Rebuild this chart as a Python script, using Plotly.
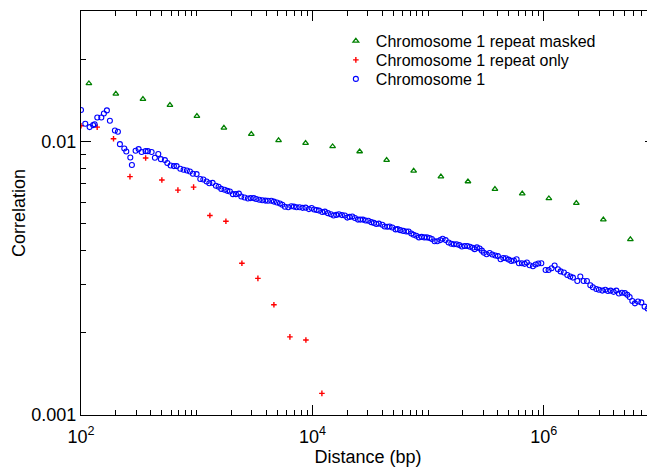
import plotly.graph_objects as go

# ---- data ----
masked_x = [117, 200, 343, 587, 1004, 1718, 2964, 5100, 8730, 14950, 25600, 43800,
            75000, 129000, 221000, 378000, 651000, 1106000, 1910000, 3270000, 5600000]
masked_y = [0.0163, 0.01494, 0.01429, 0.01359, 0.01239, 0.01122, 0.01064, 0.01009,
            0.00986, 0.00959, 0.00919, 0.00855, 0.00781, 0.00744, 0.00714, 0.0067,
            0.00645, 0.00619, 0.00595, 0.00518, 0.00439]

repeat_x = [100, 138, 191, 265, 362, 500, 688, 940, 1300, 1788, 2459, 3381, 4648,
            6391, 8786, 12080]
repeat_y = [0.01141, 0.01129, 0.01023, 0.00744, 0.0087, 0.00723, 0.00664, 0.00681,
            0.00536, 0.00511, 0.00359, 0.00316, 0.00253, 0.00193, 0.00188, 0.0012]

chr_x = [100, 108.9, 118.7, 127.3, 131.1, 138.3, 149.8, 157.7, 167.4, 177.7, 196.3,
         208.4, 216.9, 236.7, 246.3, 266.8, 275.4, 296.4, 314.7, 334.1, 361.7, 378.6,
         407.6, 435.2, 465.7, 490.4, 531.1, 557.1, 594.9, 635.4, 670.5, 721.6, 770.6,
         823, 873.5, 927.2, 998,
         1074, 1141, 1218, 1285, 1372, 1465, 1546, 1631, 1742, 1839, 1936, 2056, 2182,
         2316, 2429, 2594, 2770, 2923, 3103, 3275, 3476, 3690, 3917, 4125, 4413, 4648,
         4933, 5237, 5494, 5786, 6188, 6573, 6922, 7302, 7752, 8230, 8735, 9328,
         9842, 10340, 10870, 11430, 12180, 12830, 13610, 14450, 15250, 16090, 16940,
         17990, 19090, 20030, 20970, 22120, 23300, 24730, 25940, 27320, 28830, 30420,
         32290, 34010, 35670, 37560, 40190, 42080, 44400, 46480, 49040, 52370, 54500,
         57510, 61070, 64820, 67850, 71590, 74940, 79080, 83270, 87880, 92720, 97640,
         103000, 107800, 113800, 120100, 127500, 133500, 141700, 150400, 158700,
         167100, 176300, 186100, 195900, 206800, 218200, 229800, 242500, 252300,
         264100, 278700, 291700, 303600, 320400, 340100, 358800, 380900, 401100,
         423300, 446600, 470300, 496300, 523700, 551500, 582000, 609500, 646900,
         682600, 714400, 753900, 805100, 849500, 896300, 951500,
         1036500, 1100000, 1168000, 1240000, 1324000, 1397000, 1492000, 1596000,
         1694000, 1785000, 1948000, 2068000, 2208000, 2358000, 2523000, 2657000,
         2843000, 2994000, 3204000, 3401000, 3581000, 3779000, 4011000, 4233000,
         4457000, 4732000, 5023000, 5268000, 5515000, 5820000, 6131000, 6508000,
         6963000, 7434000, 7892000, 8327000, 8946000]
chr_y = [0.01303, 0.01161, 0.01129, 0.01148, 0.01156, 0.01224, 0.01224, 0.01266,
         0.01299, 0.01191, 0.01097, 0.01085, 0.00978, 0.00943, 0.00919, 0.00874,
         0.0082, 0.00925, 0.00938, 0.00915, 0.00922, 0.00922, 0.00915, 0.00872, 0.009,
         0.00862, 0.00855, 0.00834, 0.00817, 0.00813, 0.00813, 0.00795, 0.00788,
         0.00783, 0.00777, 0.00762, 0.0076,
         0.00729, 0.00726, 0.00714, 0.00704, 0.00706, 0.00689, 0.00683, 0.00671,
         0.00666, 0.0066, 0.00656, 0.00642, 0.00642, 0.00645, 0.00629, 0.00624,
         0.00619, 0.00621, 0.00621, 0.00616, 0.00612, 0.0061, 0.00608, 0.00607,
         0.00607, 0.00603, 0.00598, 0.00593, 0.00587, 0.00577, 0.00575, 0.0058,
         0.00578, 0.00575, 0.00575, 0.00572, 0.00573, 0.00566,
         0.00571, 0.00564, 0.00562, 0.00559, 0.00552, 0.00554, 0.00547, 0.00542,
         0.00536, 0.00539, 0.00542, 0.00538, 0.00536, 0.00527, 0.0053, 0.00532,
         0.00525, 0.00518, 0.00518, 0.00518, 0.00514, 0.00513, 0.00507, 0.00504,
         0.00499, 0.00501, 0.00496, 0.00489, 0.00488, 0.00489, 0.00485, 0.00477,
         0.00478, 0.00474, 0.00471, 0.00469, 0.00469, 0.00461, 0.00456, 0.00452,
         0.00446, 0.00448, 0.00446, 0.00446,
         0.00444, 0.0044, 0.00432, 0.00432, 0.00436, 0.00441, 0.00436, 0.00427,
         0.00423, 0.00421, 0.00421, 0.00418, 0.00413, 0.00415, 0.00415, 0.00412,
         0.00409, 0.00404, 0.0041, 0.00406, 0.00399, 0.00392, 0.00387, 0.00391,
         0.00386, 0.00383, 0.00381, 0.00371, 0.00375, 0.00374, 0.0037, 0.00366,
         0.00367, 0.00371, 0.00359, 0.00359, 0.00357, 0.00361, 0.00353, 0.0035,
         0.00355, 0.00358, 0.00359,
         0.00339, 0.00339, 0.00344, 0.00352, 0.00341, 0.00335, 0.00332, 0.00325,
         0.00321, 0.00318, 0.00309, 0.00321, 0.00309, 0.00309, 0.00298, 0.00293,
         0.00289, 0.00287, 0.00285, 0.00287, 0.00284, 0.00285, 0.00282, 0.00285,
         0.00278, 0.0028, 0.00279, 0.00275, 0.0027, 0.00261, 0.00256, 0.0026,
         0.00258, 0.00249, 0.00245, 0.00245, 0.00237]

x_major = [1e2, 1e4, 1e6]
x_major_text = ["10<sup>2</sup>", "10<sup>4</sup>", "10<sup>6</sup>"]
y_major = [0.001, 0.01]
y_major_text = ["0.001", "0.01"]

x_minor = [m * 10 ** e for e in range(2, 7) for m in range(2, 11)]
y_minor = [m * 10 ** e for e in (-3, -2) for m in range(2, 10)]

FONT = "Liberation Sans, Arial, Helvetica, sans-serif"

fig = go.Figure()
fig.add_trace(go.Scatter(
    x=masked_x, y=masked_y, mode="markers", name="Chromosome 1 repeat masked",
    legend="legend",
    marker=dict(symbol="triangle-up-open", size=5, color="#008000",
                line=dict(width=1.3, color="#008000"))))
fig.add_trace(go.Scatter(
    x=repeat_x, y=repeat_y, mode="markers", name="Chromosome 1 repeat only",
    legend="legend2",
    marker=dict(symbol="cross-thin-open", size=4, color="#ff0000",
                line=dict(width=1.4, color="#ff0000"))))
fig.add_trace(go.Scatter(
    x=chr_x, y=chr_y, mode="markers", name="Chromosome 1",
    legend="legend3",
    marker=dict(symbol="circle-open", size=5, color="#0000ff",
                line=dict(width=1.1, color="#0000ff"))))

axis_common = dict(
    type="log", automargin=False, showgrid=False, zeroline=False, showline=True,
    linecolor="black", linewidth=1.3, mirror="ticks", ticks="inside", ticklen=10,
    tickwidth=1, tickcolor="black",
    tickfont=dict(family=FONT, size=18, color="black"),
)

fig.update_xaxes(
    **axis_common, range=[2, 6.961], tickmode="array", tickvals=x_major,
    ticktext=x_major_text, ticklabelstandoff=5,
    minor=dict(tickvals=x_minor, ticks="inside", ticklen=5, tickcolor="black",
               tickwidth=1, showgrid=False),
    title=dict(text="Distance (bp)", font=dict(family=FONT, size=18, color="black"),
               standoff=1),
)
fig.update_yaxes(
    **axis_common, range=[-3, -1.5229], tickmode="array", tickvals=y_major,
    ticktext=y_major_text,
    minor=dict(tickvals=y_minor, ticks="inside", ticklen=5, tickcolor="black",
               tickwidth=1, showgrid=False),
    title=dict(text="Correlation", font=dict(family=FONT, size=18, color="black"),
               standoff=0),
)

leg_common = dict(x=0.444, xanchor="left", yanchor="middle",
                  bgcolor="rgba(0,0,0,0)", borderwidth=0,
                  font=dict(family=FONT, size=16, color="black"), itemwidth=30)

fig.update_layout(
    width=647, height=460,
    margin=dict(l=73, r=0, t=3, b=53),
    paper_bgcolor="white", plot_bgcolor="white",
    font=dict(family=FONT, color="black"),
    showlegend=True,
    legend=dict(**leg_common, y=0.9257),
    legend2=dict(**leg_common, y=0.8787),
    legend3=dict(**leg_common, y=0.8317),
)

fig.write_html("out.html")
